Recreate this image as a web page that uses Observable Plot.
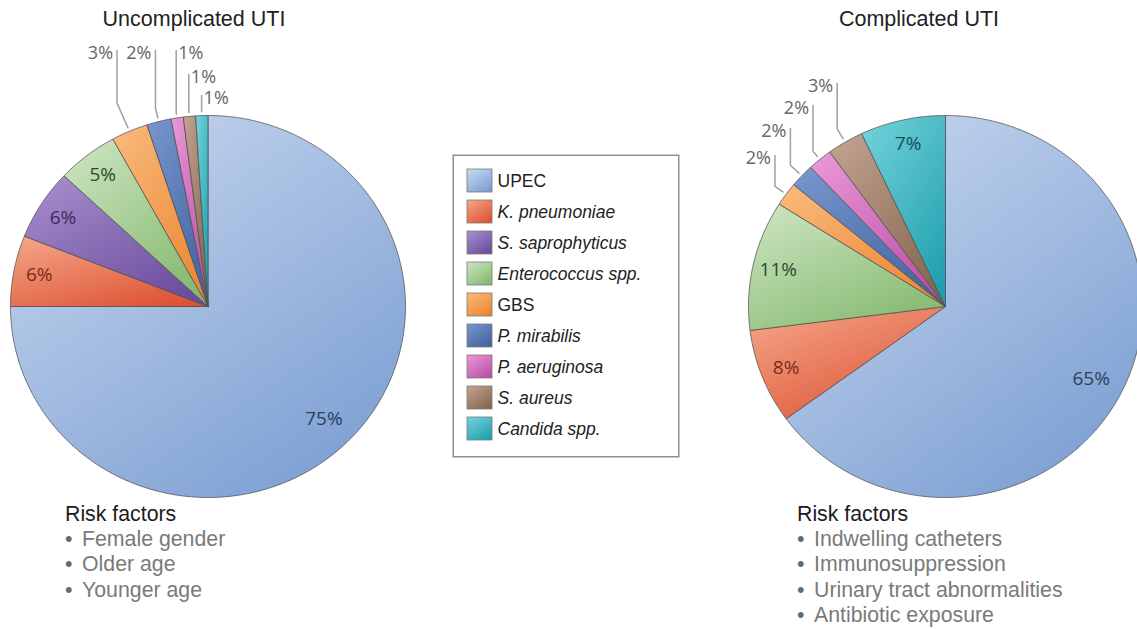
<!DOCTYPE html>
<html><head><meta charset="utf-8">
<script src="https://cdn.jsdelivr.net/npm/d3@7"></script>
<script src="https://cdn.jsdelivr.net/npm/@observablehq/plot@0.6"></script>
<style>
body{margin:0;background:#fff;}
#root{position:relative;width:1137px;height:629px;overflow:hidden;background:#fff;font-family:"Liberation Sans",Arial,sans-serif;}
.abs{position:absolute;}
.title{font-size:21.5px;line-height:21.5px;color:#222;white-space:nowrap;text-align:center;width:300px;}
.risk{font-size:21.3px;line-height:25.2px;white-space:nowrap;}
.risk .head{color:#1c1c1c;}
.risk .item{color:#7a7a7a;}
.risk .bul{display:inline-block;width:17px;color:#6a6a6a;}
</style></head><body><div id="root"></div>
<script>
// ---- data ----
const species = ["UPEC","K. pneumoniae","S. saprophyticus","Enterococcus spp.","GBS","P. mirabilis","P. aeruginosa","S. aureus","Candida spp."];
const italicSpecies = ["K. pneumoniae","S. saprophyticus","Enterococcus spp.","P. mirabilis","P. aeruginosa","S. aureus","Candida spp."];
const uncomplicatedPct = [75,6,6,5,3,2,1,1,1];
const complicatedPct = [65,8,0,11,2,2,2,3,7];
const chartTitles = ["Uncomplicated UTI","Complicated UTI"];
const riskHeading = "Risk factors";
const riskUncomplicated = ["Female gender","Older age","Younger age"];
const riskComplicated = ["Indwelling catheters","Immunosuppression","Urinary tract abnormalities","Antibiotic exposure"];

// ---- styles ----
const lightColors = ["#c6d6ee","#f4a285","#a58ccb","#cae3be","#f9b778","#7594cb","#e795d6","#bfa08c","#6fd0d8"];
const darkColors  = ["#7a9dd2","#dc5132","#6a4a9c","#82b86c","#ea8630","#4262a0","#bb4ca3","#83644d","#1e9eae"];
const labelColors = ["#2c405e","#7a2a1c","#3a2a5c","#2c4a2c","#6a4a20","#223355","#5a2050","#4a3525","#15505a"];

const root = document.getElementById("root");

// gradient defs shared by all svgs
const NS = "http://www.w3.org/2000/svg";
const defsSvg = document.createElementNS(NS,"svg");
defsSvg.setAttribute("width","0");defsSvg.setAttribute("height","0");
defsSvg.style.position="absolute";
const defs = document.createElementNS(NS,"defs");
species.forEach((s,i)=>{
  const g = document.createElementNS(NS,"linearGradient");
  g.setAttribute("id","grad"+i);
  g.setAttribute("x1","0.15");g.setAttribute("y1","0");g.setAttribute("x2","0.85");g.setAttribute("y2","1");
  [[0,lightColors[i]],[1,darkColors[i]]].forEach(([o,c])=>{
    const st=document.createElementNS(NS,"stop");st.setAttribute("offset",o);st.setAttribute("stop-color",c);g.appendChild(st);
  });
  defs.appendChild(g);
});
defsSvg.appendChild(defs);
root.appendChild(defsSvg);

const colorScale = {domain: species, range: species.map((s,i)=>`url(#grad${i})`)};

function pieChart(values, cfg){
  const rows = species.map((s,i)=>({species:s,pct:values[i],i})).filter(d=>d.pct>0);
  const arcs = d3.pie().sort(null).value(d=>d.pct)(rows);
  const poly = [];
  arcs.forEach(a=>{
    const sp=a.data.species;
    const n=Math.max(2,Math.ceil((a.endAngle-a.startAngle)/0.01));
    poly.push({species:sp,x:0,y:0});
    for(let k=0;k<=n;k++){const t=a.startAngle+(a.endAngle-a.startAngle)*k/n;poly.push({species:sp,x:Math.sin(t),y:Math.cos(t)});}
    poly.push({species:sp,x:0,y:0});
  });
  const mid = a=>(a.startAngle+a.endAngle)/2;
  const inner = arcs.filter(a=>a.data.pct>=4).map(a=>{
    const r=a.data.pct>50?0.83:0.87;const m=mid(a);
    return {x:r*Math.sin(m),y:r*Math.cos(m),text:a.data.pct+"%",color:labelColors[a.data.i]};
  });
  const small = arcs.filter(a=>a.data.pct<4);
  const leaders=[], leaderText=[];
  small.forEach((a,k)=>{
    const m=mid(a), er=cfg.elbows[k], top=cfg.tops[k];
    const ex=er*Math.sin(m), ey=er*Math.cos(m);
    leaders.push({id:k,x:1.02*Math.sin(m),y:1.02*Math.cos(m)});
    leaders.push({id:k,x:ex,y:ey});
    leaders.push({id:k,x:ex,y:top});
    leaderText.push({x:ex,y:top,text:a.data.pct+"%",anchor:cfg.anchors[k]});
  });
  const pctFont = {fontFamily:"'Open Sans', sans-serif",fontSize:19};
  const leadFont = {fontFamily:"'Open Sans', sans-serif",fontSize:18};
  return Plot.plot({
    width:cfg.width,height:cfg.height,margin:0,
    style:{background:"transparent",overflow:"visible"},
    x:{domain:[-1,1],range:[cfg.cx-cfg.rx,cfg.cx+cfg.rx],axis:null},
    y:{domain:[-1,1],range:[cfg.cy+cfg.ry,cfg.cy-cfg.ry],axis:null},
    color:colorScale,
    marks:[
      Plot.line(poly,{x:"x",y:"y",z:"species",fill:"species",stroke:"#505050",strokeWidth:0.9,strokeOpacity:0.85,curve:"linear"}),
      Plot.line(leaders,{x:"x",y:"y",z:"id",stroke:"#a0a0a0",strokeWidth:1.5,curve:"linear"}),
      Plot.text(inner,{x:"x",y:"y",text:"text",fill:d=>d.color,...pctFont}),
      Plot.text(leaderText.filter(d=>d.anchor==="end"),{x:"x",y:"y",text:"text",textAnchor:"end",dx:-4,dy:2.5,fill:"#666",...leadFont}),
      Plot.text(leaderText.filter(d=>d.anchor==="start"),{x:"x",y:"y",text:"text",textAnchor:"start",dx:2,dy:2.5,fill:"#666",...leadFont})
    ]
  });
}

function place(el,left,top){el.classList.add("abs");el.style.left=left+"px";el.style.top=top+"px";root.appendChild(el);return el;}

// left pie
place(pieChart(uncomplicatedPct,{width:420,height:520,cx:207.5,cy:306,rx:197.5,ry:191,
  tops:[1.34,1.34,1.34,1.215,1.105],anchors:["end","end","start","start","start"],elbows:[1.16,1.07,1.03,1.03,1.03]}),0,0);
// right pie
place(pieChart(complicatedPct,{width:460,height:520,cx:245,cy:306,rx:197,ry:191,
  tops:[0.79,0.932,1.052,1.168],anchors:["end","end","end","end"],elbows:[1.07,1.08,1.055,1.08]}),700,0);

// legend
const legend = Plot.plot({
  width:227,height:303,margin:0,
  style:{background:"#fff",overflow:"visible"},
  x:{type:"band",domain:["swatch"],range:[15,40],padding:0,axis:null},
  y:{type:"band",domain:species,range:[6.6,294.3],padding:0.25,axis:null},
  color:colorScale,
  marks:[
    Plot.frame({stroke:"#8f8f8f",strokeWidth:1.5,inset:0.75}),
    Plot.cell(species,{x:()=>"swatch",y:d=>d,fill:d=>d,stroke:"#7a7a7a",strokeWidth:0.8}),
    Plot.text(species.filter(s=>!italicSpecies.includes(s)),{x:()=>"swatch",y:d=>d,text:d=>d,dx:17.5,textAnchor:"start",fontSize:17.5,fontFamily:"'Liberation Sans', Arial, sans-serif",fill:"#222"}),
    Plot.text(italicSpecies,{x:()=>"swatch",y:d=>d,text:d=>d,dx:17.5,textAnchor:"start",fontSize:17.5,fontStyle:"italic",fontFamily:"'Liberation Sans', Arial, sans-serif",fill:"#222"})
  ]
});
place(legend,452,154);

// titles
[[chartTitles[0],194],[chartTitles[1],919]].forEach(([t,cx])=>{
  const d=document.createElement("div");d.className="title";d.textContent=t;place(d,cx-150,9);
});

// risk factors
function riskBlock(items,left){
  const d=document.createElement("div");d.className="risk";
  const h=document.createElement("div");h.className="head";h.textContent=riskHeading;d.appendChild(h);
  items.forEach(t=>{const r=document.createElement("div");r.className="item";
    const b=document.createElement("span");b.className="bul";b.textContent="•";r.appendChild(b);
    r.appendChild(document.createTextNode(t));d.appendChild(r);});
  place(d,left,502);
}
riskBlock(riskUncomplicated,65);
riskBlock(riskComplicated,797);
</script></body></html>
